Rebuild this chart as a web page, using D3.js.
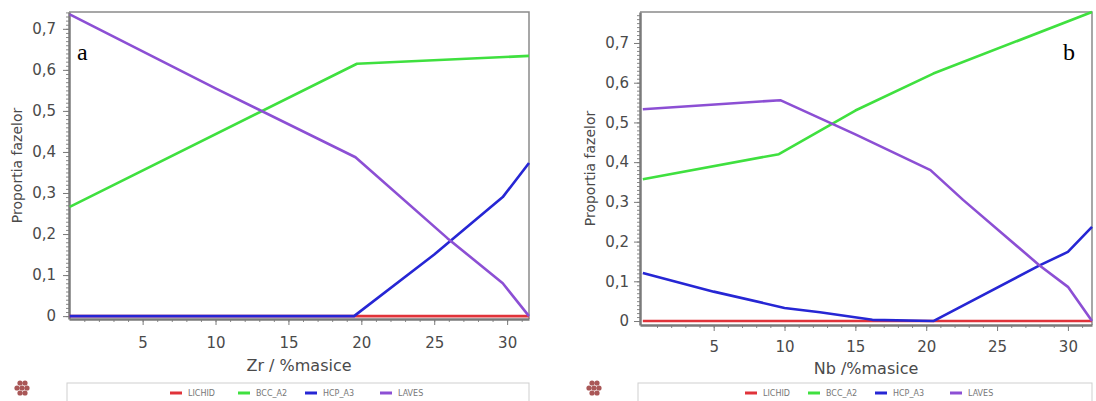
<!DOCTYPE html>
<html>
<head>
<meta charset="utf-8">
<script src="https://cdn.jsdelivr.net/npm/d3@7"></script>
<style>
  body { margin: 0; background: #fff; }
  svg { display: block; }
  text { font-family: "DejaVu Sans", Verdana, sans-serif; }
</style>
</head>
<body>
<svg id="chart" width="1096" height="401"></svg>
<script>
// series names and colours in legend order
var phases = ["LICHID", "BCC_A2", "HCP_A3", "LAVES"];
var phaseColors = ["#e0333a", "#3fe03f", "#2626d4", "#8c4fd4"];

var yTicks = [0, 0.1, 0.2, 0.3, 0.4, 0.5, 0.6, 0.7];
var xTicks = [5, 10, 15, 20, 25, 30];

// panel a : Zr
var zrLichid = [[0, 0], [31.5, 0]];
var zrBcc = [[0, 0.266], [19.7, 0.615], [31.5, 0.634]];
var zrHcp = [[0, 0], [19.5, 0], [25, 0.15], [29.7, 0.29], [31.5, 0.373]];
var zrLaves = [[0, 0.735], [10, 0.555], [19.6, 0.387], [25.9, 0.19], [29.7, 0.08], [31.5, 0]];

// panel b : Nb
var nbLichid = [[0, 0], [31.7, 0]];
var nbBcc = [[0, 0.357], [9.6, 0.42], [15, 0.53], [20.5, 0.623], [31.7, 0.778]];
var nbHcp = [[0, 0.121], [5, 0.074], [10, 0.033], [12.5, 0.022], [16.2, 0.003], [20.5, 0], [28, 0.14], [30, 0.174], [31.7, 0.237]];
var nbLaves = [[0, 0.533], [9.7, 0.556], [15, 0.47], [20.3, 0.38], [22.6, 0.305], [28, 0.14], [30, 0.086], [31.7, 0]];

var svg = d3.select("#chart");
var fmt = function(d) { return d === 0 ? "0" : d3.format(".1f")(d).replace(".", ","); };

function drawPanel(p) {
  var x = d3.scaleLinear().domain(p.xDomain).range([p.left, p.right]);
  var y = d3.scaleLinear().domain(p.yDomain).range([p.bottom, p.top]);
  var g = svg.append("g");

  // frame top/right
  g.append("path")
    .attr("d", "M" + p.left + "," + p.top + "H" + p.right + "V" + p.bottom)
    .attr("fill", "none").attr("stroke", "#8a8a8a").attr("stroke-width", 1.5);

  // minor ticks
  var yMinor = d3.range(0, p.yDomain[1], 0.01);
  g.append("g").attr("transform", "translate(" + p.left + ",0)")
    .call(d3.axisLeft(y).tickValues(yMinor).tickSize(3).tickFormat(""))
    .call(function(s) { s.select(".domain").remove(); s.selectAll("line").attr("stroke", "#888"); });
  var xMinor = d3.range(1, p.xDomain[1], 1);
  g.append("g").attr("transform", "translate(0," + p.bottom + ")")
    .call(d3.axisBottom(x).tickValues(xMinor).tickSize(3).tickFormat(""))
    .call(function(s) { s.select(".domain").remove(); s.selectAll("line").attr("stroke", "#888"); });

  // major axes
  var ya = g.append("g").attr("transform", "translate(" + p.left + ",0)")
    .call(d3.axisLeft(y).tickValues(yTicks).tickSize(6).tickPadding(p.yPad).tickSizeOuter(0).tickFormat(fmt));
  var xa = g.append("g").attr("transform", "translate(0," + p.bottom + ")")
    .call(d3.axisBottom(x).tickValues(xTicks).tickSize(6).tickPadding(p.xPad).tickSizeOuter(0));
  [ya, xa].forEach(function(a) {
    a.select(".domain").attr("stroke", "#7a7a7a").attr("stroke-width", 2.5);
    a.selectAll(".tick line").attr("stroke", "#7a7a7a");
    a.selectAll("text").attr("fill", "#4a4a4a").style("font-size", "15px");
  });

  // lines
  var line = d3.line().x(function(d) { return x(d[0]); }).y(function(d) { return y(d[1]); });
  p.series.forEach(function(s, i) {
    g.append("path").datum(s)
      .attr("d", line)
      .attr("fill", "none")
      .attr("stroke", phaseColors[i])
      .attr("stroke-width", 2.6)
      .attr("stroke-linejoin", "round");
  });

  // axis titles
  g.append("text")
    .attr("transform", "translate(" + p.yLabelX + "," + ((p.top + p.bottom) / 2) + ") rotate(-90)")
    .attr("text-anchor", "middle")
    .attr("fill", "#4a4a4a")
    .style("font-size", "14px")
    .text("Proportia fazelor");
  g.append("text")
    .attr("x", (p.left + p.right) / 2).attr("y", p.xLabelY)
    .attr("text-anchor", "middle")
    .attr("fill", "#4a4a4a")
    .style("font-size", "16px")
    .text(p.xLabel);

  // panel letter
  g.append("text")
    .attr("x", p.letterX).attr("y", 60)
    .style("font-family", "'Liberation Serif', 'DejaVu Serif', serif")
    .style("font-size", "24px")
    .attr("fill", "#000")
    .text(p.letter);

  // legend box
  g.append("rect")
    .attr("x", p.left - 2).attr("y", 383)
    .attr("width", p.right - p.left + 2).attr("height", 30)
    .attr("fill", "#fff").attr("stroke", "#cfcfcf");
  phases.forEach(function(name, i) {
    var lx = p.legendX[i];
    g.append("line")
      .attr("x1", lx).attr("x2", lx + 12)
      .attr("y1", 393).attr("y2", 393)
      .attr("stroke", phaseColors[i]).attr("stroke-width", 3);
    g.append("text")
      .attr("x", lx + 18).attr("y", 396)
      .attr("fill", "#777")
      .style("font-size", "8px")
      .text(name);
  });

  // small program icon
  var icon = svg.append("g").attr("transform", "translate(" + p.iconX + ",388)");
  [[0, -5], [5, -5], [-3, 0], [2, 0], [7, 0], [0, 5], [5, 5]].forEach(function(c) {
    icon.append("circle").attr("cx", c[0]).attr("cy", c[1]).attr("r", 2.6)
      .attr("fill", "#9a3a3a").attr("opacity", 0.85);
  });
}

drawPanel({
  left: 69, right: 529, top: 12, bottom: 319,
  xDomain: [-0.05, 31.5], yDomain: [-0.007, 0.741],
  series: [zrLichid, zrBcc, zrHcp, zrLaves],
  xLabel: "Zr / %masice", xLabelY: 371, yLabelX: 22,
  yPad: 7, xPad: 12,
  letter: "a", letterX: 77,
  legendX: [170, 238, 305, 380],
  iconX: 20
});

drawPanel({
  left: 640, right: 1092, top: 12, bottom: 325,
  xDomain: [-0.2, 31.7], yDomain: [-0.01, 0.778],
  series: [nbLichid, nbBcc, nbHcp, nbLaves],
  xLabel: "Nb /%masice", xLabelY: 374, yLabelX: 595,
  yPad: 5, xPad: 10,
  letter: "b", letterX: 1063,
  legendX: [745, 808, 875, 950],
  iconX: 592
});
</script>
</body>
</html>
